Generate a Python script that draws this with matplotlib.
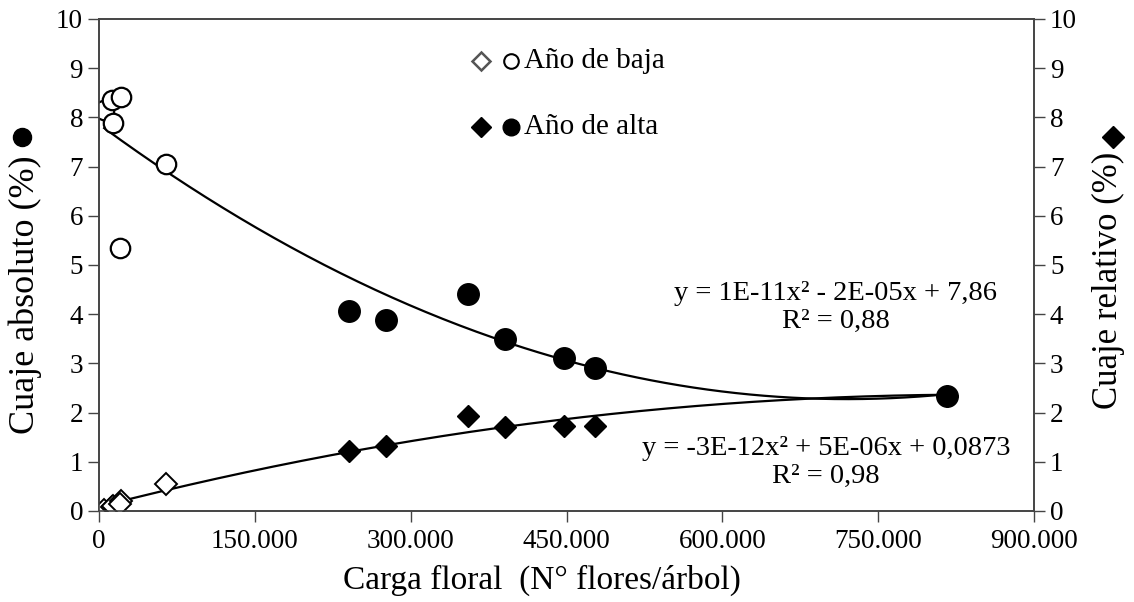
import numpy as np
import matplotlib
matplotlib.use("Agg")
import matplotlib.pyplot as plt
from matplotlib.ticker import FuncFormatter

plt.rcParams['font.family'] = ['Liberation Serif', 'DejaVu Serif']

# ---- data ----
baja_x = [5000, 12500, 13800, 21000, 20200, 64500]
baja_abs = [8.15, 8.35, 7.88, 8.41, 5.35, 7.05]
baja_rel = [0.03, 0.08, 0.10, 0.20, 0.14, 0.55]

alta_x = [240500, 276500, 355500, 391000, 448000, 477500, 816600]
alta_abs = [4.07, 3.88, 4.42, 3.50, 3.10, 2.91, 2.34]
alta_rel = [1.21, 1.32, 1.94, 1.70, 1.73, 1.73, 2.34]

# polynomial trendlines (coefficients estimated from the drawn curves)
abs_coef = [1.078e-11, -1.552e-05, 7.86]
rel_coef = [-3.2e-12, 5.4e-06, 0.0873]

eq_abs = "y = 1E-11x² - 2E-05x + 7,86\nR² = 0,88"
eq_rel = "y = -3E-12x² + 5E-06x + 0,0873\nR² = 0,98"

x_ticks = [0, 150000, 300000, 450000, 600000, 750000, 900000]
y_ticks = list(range(0, 11))

W, H = 1134, 602
fig = plt.figure(figsize=(W/100, H/100), dpi=100)
ax = fig.add_axes([99/W, 1 - 511/H, (1034-99)/W, (511-19)/H])
ax2 = ax.twinx()

all_x = np.array(baja_x + alta_x)
xs = np.linspace(all_x.min(), all_x.max(), 300)
ax.plot(xs, np.polyval(abs_coef, xs), color='black', lw=1.6, zorder=2)
ax.plot(xs, np.polyval(rel_coef, xs), color='black', lw=1.6, zorder=2)

ax.plot(baja_x, baja_abs, 'o', ms=14, mfc='white', mec='black', mew=1.6, ls='none', zorder=3)
ax.plot(baja_x, baja_rel, 'D', ms=11.5, mfc='white', mec='black', mew=1.4, ls='none', zorder=3)
ax.plot(alta_x, alta_rel, 'D', ms=11.5, mfc='black', mec='black', ls='none', zorder=3)
ax.plot(alta_x, alta_abs, 'o', ms=15.5, mfc='black', mec='black', ls='none', zorder=4)

for a in (ax, ax2):
    a.set_ylim(0, 10)
    a.set_yticks(y_ticks)
ax.set_xlim(0, 900000)
ax.set_xticks(x_ticks)
ax.xaxis.set_major_formatter(FuncFormatter(lambda v, p: f"{int(v):,}".replace(",", ".")))

ax.tick_params(axis='both', direction='out', length=8, width=1, labelsize=19.5, color='#444444')
ax.tick_params(axis='x', pad=5)
ax2.tick_params(axis='y', direction='out', length=8, width=1, labelsize=19.5, color='#444444')
for a in (ax, ax2):
    for s in a.spines.values():
        s.set_color('#444444')
        s.set_linewidth(1.2)

xl = ax.set_xlabel("Carga floral  (N° flores/árbol)", fontsize=24)
ax.xaxis.set_label_coords((542-99)/935, -(580-511)/492)
xl.set_va('center')
yl = ax.set_ylabel("Cuaje absoluto (%)", fontsize=26)
ax.yaxis.set_label_coords(-(99-25)/935, (511-295)/492)
yl.set_va('center')
yl.set_ha('center')
yr = ax2.set_ylabel("Cuaje relativo (%)", fontsize=25, rotation=90)
ax2.yaxis.set_label_coords(1 + (1108-1034)/935, (511-280)/492)
yr.set_va('center')
yr.set_ha('center')

ax.text(836/W, 1 - 307/H, eq_abs, transform=fig.transFigure, ha='center', va='center',
        fontsize=20.5, linespacing=1.15)
ax.text(826/W, 1 - 462/H, eq_rel, transform=fig.transFigure, ha='center', va='center',
        fontsize=20.5, linespacing=1.15)

# legend (manual, matching the layout)
fig_ax = fig.add_axes([0, 0, 1, 1], facecolor='none')
fig_ax.set_xlim(0, W)
fig_ax.set_ylim(H, 0)
fig_ax.axis('off')
fig_ax.plot([481], [61], 'D', ms=9, mfc='white', mec='#555555', mew=1.8)
fig_ax.plot([511], [61], 'o', ms=10.5, mfc='white', mec='black', mew=1.5)
fig_ax.text(524, 61, "Año de baja", fontsize=21, va='center', ha='left')
fig_ax.plot([481], [127], 'D', ms=10, mfc='black', mec='black')
fig_ax.plot([511], [127], 'o', ms=12, mfc='black', mec='black')
fig_ax.text(524, 127, "Año de alta", fontsize=21, va='center', ha='left')
# axis-title markers
fig_ax.plot([22], [137], 'o', ms=13, mfc='black', mec='black')
fig_ax.plot([1113], [137], 'D', ms=11, mfc='black', mec='black')

fig.savefig("out.png", dpi=100)
